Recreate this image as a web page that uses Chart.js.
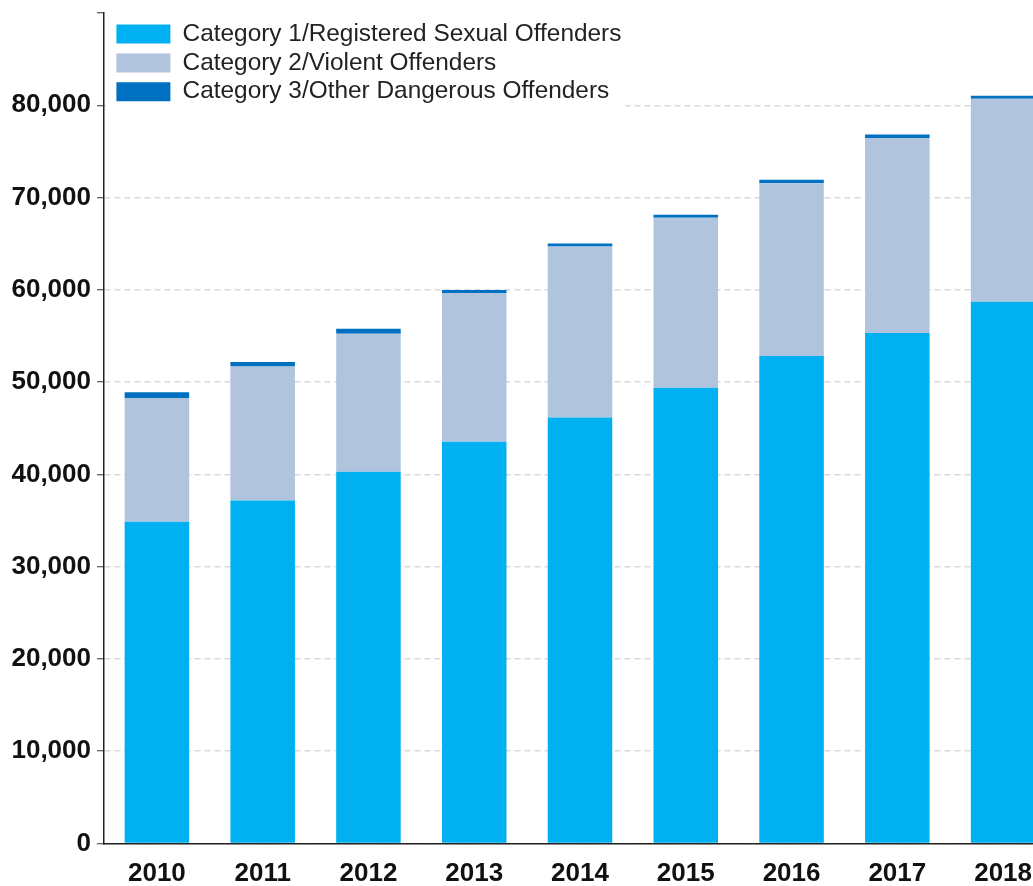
<!DOCTYPE html>
<html>
<head>
<meta charset="utf-8">
<script src="https://cdn.jsdelivr.net/npm/chart.js@4"></script>
<style>
  html, body { margin: 0; padding: 0; background: #fff; overflow: hidden; }
  #wrap { width: 1033px; height: 886px; overflow: hidden; }
</style>
</head>
<body>
<div id="wrap"><canvas id="chart" width="1056" height="886"></canvas></div>
<script>
// years on the x axis
var years = ['2010', '2011', '2012', '2013', '2014', '2015', '2016', '2017', '2018'];

// offenders per category
var cat1 = [34870, 37180, 40280, 43530, 46160, 49400, 52830, 55320, 58710];
var cat2 = [13420, 14500, 14970, 16120, 18540, 18400, 18730, 21140, 22000];
var cat3 = [610, 510, 540, 330, 320, 330, 360, 360, 330];

var seriesNames = [
    'Category 1/Registered Sexual Offenders',
    'Category 2/Violent Offenders',
    'Category 3/Other Dangerous Offenders'
];

var yMax = 90000;
var yStep = 10000;

var font = '"Liberation Sans", Arial, sans-serif';

// legend sits inside the plot on a white patch that hides the gridlines
var legendBox = {
    id: 'legendBox',
    afterLayout: function (chart) {
        var area = chart.chartArea;
        chart.legend.left = area.left + 8;
        chart.legend.top = area.top + 4.5;
    },
    beforeDatasetsDraw: function (chart) {
        var lg = chart.legend;
        var area = chart.chartArea;
        var c = chart.ctx;
        c.save();
        c.fillStyle = '#ffffff';
        c.fillRect(area.left + 2, area.top + 1, 625 - area.left - 2, 95);
        c.restore();
        lg.draw();
    }
};

var ctx = document.getElementById('chart').getContext('2d');
var chart = new Chart(ctx, {
    type: 'bar',
    data: {
        labels: years,
        datasets: [
            { label: seriesNames[0], data: cat1, backgroundColor: '#00b0f0' },
            { label: seriesNames[1], data: cat2, backgroundColor: '#b0c4de' },
            { label: seriesNames[2], data: cat3, backgroundColor: '#0070c0' }
        ]
    },
    options: {
        responsive: false,
        animation: false,
        devicePixelRatio: 1,
        categoryPercentage: 1,
        barPercentage: 0.61,
        layout: { padding: { top: 13, left: 0, right: 0, bottom: 0 } },
        plugins: {
            tooltip: { enabled: false },
            legend: {
                position: 'chartArea',
                align: 'start',
                labels: {
                    boxWidth: 54,
                    boxHeight: 19,
                    padding: 4.4,
                    color: '#222',
                    font: { family: font, size: 24.4 }
                }
            }
        },
        scales: {
            x: {
                stacked: true,
                afterFit: function (s) { s.height = 42.5; s.paddingLeft = 0; s.paddingRight = 0; },
                grid: { display: false, drawTicks: false },
                border: { color: '#222', width: 1.5 },
                ticks: {
                    padding: 15,
                    color: '#111',
                    maxRotation: 0,
                    font: { family: font, size: 26, weight: 'bold' }
                }
            },
            y: {
                stacked: true,
                min: 0,
                max: yMax,
                afterFit: function (s) { s.width = 104; s.paddingTop = 0; s.paddingBottom = 0; },
                border: { color: '#222', width: 1.5, dash: [6, 4] },
                grid: {
                    color: function (c) {
                        return (c.tick && c.tick.value === yMax) ? 'rgba(0,0,0,0)' : '#d9d9d9';
                    },
                    lineWidth: 1.5,
                    tickLength: 7,
                    tickColor: '#333',
                    tickBorderDash: [],
                    tickWidth: 1
                },
                ticks: {
                    stepSize: yStep,
                    padding: 6,
                    color: '#111',
                    font: { family: font, size: 26, weight: 'bold' },
                    callback: function (v) {
                        return v === yMax ? '' : v.toLocaleString('en-US');
                    }
                }
            }
        }
    },
    plugins: [legendBox]
});
</script>
</body>
</html>
